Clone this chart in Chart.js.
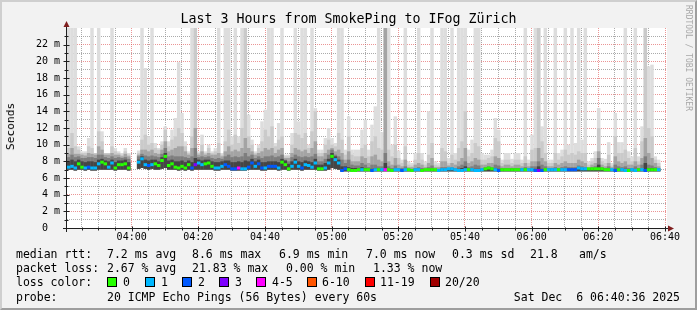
<!DOCTYPE html>
<html>
<head>
<meta charset="utf-8">
<title>SmokePing IFog Zürich</title>
<script src="https://cdn.jsdelivr.net/npm/chart.js@4.4.1/dist/chart.umd.min.js"></script>
<style>
html,body{margin:0;padding:0}
body{width:697px;height:310px;overflow:hidden;position:relative;background:#f2f2f2;font-family:"DejaVu Sans Mono",monospace;color:#000}
#frame{position:absolute;left:0;top:0;width:697px;height:310px;box-sizing:border-box;border-style:solid;border-width:2px;border-color:#cfcfcf #9e9e9e #9e9e9e #cfcfcf}
#c{position:absolute;left:0;top:0}
.t{position:absolute;white-space:pre;font-size:11.5px;line-height:14px}
#title{position:absolute;left:0;width:697px;top:11px;text-align:center;font-size:13.3px;line-height:16px;white-space:pre}
#ylab{position:absolute;left:4px;top:103px;font-size:11.2px;line-height:13px;writing-mode:vertical-rl;transform:rotate(180deg);white-space:pre;color:#000}
#wm{position:absolute;left:683px;top:5px;font-size:8px;line-height:10px;writing-mode:vertical-rl;color:#a8a8a8;white-space:pre}
.box{position:absolute;width:8px;height:8px;border:1px solid #000}
</style>
</head>
<body>
<div id="frame"></div>
<canvas id="c" width="697" height="310"></canvas>
<div id="title">Last 3 Hours from SmokePing to IFog Zürich</div>
<div id="ylab">Seconds</div>
<div id="wm">RRDTOOL / TOBI OETIKER</div>
<div id="legend"></div>
<script>
// ---------- axis / categories ----------
const startMinute = 220.6;   // 03:40:36 in minutes after midnight
const endMinute = 400.6;     // 06:40:36
const xTickValues = [240, 260, 280, 300, 320, 340, 360, 380, 400];
const xTickLabels = ['04:00','04:20','04:40','05:00','05:20','05:40','06:00','06:20','06:40'];
const yTickValues = [0, 2, 4, 6, 8, 10, 12, 14, 16, 18, 20, 22];
const yTickLabels = ['0  ','2 m','4 m','6 m','8 m','10 m','12 m','14 m','16 m','18 m','20 m','22 m'];

// ---------- series (ms), one value per minute ----------
const rttMedian = [
 7.3,7.4,7.2,7.7,7.3,7.2,7.3,7.2,7.2,7.7,
 7.9,7.7,7.3,7.8,7.2,7.6,7.6,7.7,7.2,null,
 null,7.9,8.3,7.6,7.5,7.6,7.7,7.5,8.1,8.6,
 7.5,7.7,7.3,7.2,7.4,7.2,7.6,7.2,7.6,7.8,
 7.6,7.7,7.8,7.4,7.2,7.2,7.4,7.6,7.4,7.1,
 7.1,7.2,7.1,7.1,7.3,7.8,7.4,7.7,7.2,7.2,
 7.4,7.4,7.4,7.2,7.9,7.6,7.1,7.4,7.9,7.4,
 7.2,7.6,7.5,7.3,7.8,7.1,7.1,7.2,7.8,8.6,
 8.2,7.8,6.9,7.1,7.0,6.9,6.9,7.0,7.0,7.0,
 7.0,6.9,7.0,7.0,7.0,7.0,7.0,6.9,7.0,7.0,
 6.9,7.0,7.0,6.9,7.0,7.0,6.9,7.0,7.0,7.0,
 7.0,6.9,7.0,7.0,7.1,7.1,7.0,6.9,6.9,7.0,
 7.0,7.0,6.9,6.9,7.0,7.1,7.2,7.1,7.0,6.9,
 7.0,7.0,7.0,7.0,7.0,7.0,7.0,7.0,7.0,7.0,
 6.9,6.9,6.9,7.0,7.0,7.0,7.0,7.0,7.0,7.0,
 7.0,7.0,7.0,7.2,7.1,7.1,7.1,7.1,7.1,7.1,
 7.1,7.0,7.0,7.0,6.9,7.0,7.0,6.9,6.9,7.0,
 6.9,7.0,7.0,6.9,7.0,7.0,7.0,7.0,null,null];

// loss class index per minute (0 = 0 lost, 1 = 1, 2 = 2, 3 = 3, 4 = 4-5 ...)
const lossIdx = [
 1,1,1,0,0,1,2,1,1,1,
 0,0,1,1,0,0,0,0,0,null,
 null,1,1,1,2,1,0,0,0,0,
 0,0,0,0,0,0,0,2,3,1,
 1,0,0,0,1,1,1,2,2,2,
 2,4,1,1,2,2,1,2,2,1,
 2,2,2,1,0,0,0,1,1,1,
 2,1,1,1,1,0,0,1,1,0,
 1,1,2,2,0,0,0,0,1,0,
 0,2,1,0,1,4,0,0,1,1,
 2,1,0,0,1,1,0,0,0,0,
 0,1,1,1,1,1,1,1,1,1,
 0,1,1,1,1,0,0,0,1,2,
 0,0,0,0,0,0,1,0,1,1,
 2,3,2,0,1,1,1,0,1,1,
 2,2,2,1,1,1,0,0,0,0,
 0,0,0,1,2,0,1,1,0,1,
 1,0,1,2,0,0,0,1,null,null];

// smoke: lowest ping per minute
const smokeMin = [
 7.0,7.0,6.9,7.0,7.0,6.9,7.0,6.9,6.9,7.0,
 7.0,7.0,7.0,7.0,6.9,7.0,7.0,7.0,6.9,null,
 null,7.1,7.2,7.1,7.0,7.1,7.0,7.0,7.1,7.2,
 7.0,7.0,7.0,6.9,7.0,6.9,7.0,6.9,7.0,7.0,
 7.0,7.0,7.0,7.0,6.9,6.9,7.0,7.0,7.0,6.9,
 6.9,6.9,6.9,6.9,7.0,7.0,7.0,7.0,6.9,6.9,
 7.0,7.0,7.0,6.9,7.0,7.0,6.9,7.0,7.0,7.0,
 6.9,7.0,7.0,7.0,7.0,6.9,6.9,6.9,7.0,7.2,
 7.1,7.0,6.8,6.8,6.8,6.8,6.8,6.8,6.8,6.8,
 6.8,6.8,6.8,6.8,6.8,6.8,6.8,6.8,6.8,6.8,
 6.8,6.8,6.8,6.8,6.8,6.8,6.8,6.8,6.8,6.8,
 6.8,6.8,6.8,6.8,6.8,6.8,6.8,6.8,6.8,6.8,
 6.8,6.8,6.8,6.8,6.8,6.8,6.8,6.8,6.8,6.8,
 6.8,6.8,6.8,6.8,6.8,6.8,6.8,6.8,6.8,6.8,
 6.8,6.8,6.8,6.8,6.8,6.8,6.8,6.8,6.8,6.8,
 6.8,6.8,6.8,6.8,6.8,6.8,6.8,6.8,6.8,6.8,
 6.8,6.8,6.8,6.8,6.8,6.8,6.8,6.8,6.8,6.8,
 6.8,6.8,6.8,6.8,6.8,6.8,6.8,6.8,null,null];

// smoke band tops, innermost (darkest) to outermost (max ping)
const smokeL4 = [
 8.0,8.2,8.0,8.2,8.0,7.9,8.0,8.0,7.9,8.2,
 8.3,8.1,8.0,8.2,7.9,8.1,8.1,8.2,7.9,null,
 null,8.2,8.6,8.2,8.1,8.2,8.2,8.0,8.5,9.0,
 8.1,8.2,8.0,8.0,8.1,7.9,8.1,7.9,8.4,8.2,
 8.1,8.2,8.2,8.0,7.9,7.9,8.0,8.1,8.1,7.9,
 7.9,8.0,7.9,8.1,8.0,8.3,8.0,8.2,7.9,7.9,
 8.0,8.0,8.0,7.9,8.3,8.1,7.7,8.0,8.3,8.0,
 7.9,8.1,8.0,7.9,8.3,7.6,7.6,7.8,8.3,9.0,
 8.6,8.2,7.4,7.4,7.3,7.2,7.2,7.2,7.3,7.2,
 7.1,7.1,7.2,7.1,7.1,7.8,7.1,7.0,7.1,7.1,
 7.0,7.1,7.0,7.0,7.1,7.1,7.0,7.0,7.0,7.1,
 7.0,7.0,7.1,7.1,7.2,7.2,7.1,7.1,7.2,7.4,
 7.1,7.1,7.1,7.1,7.1,7.2,7.3,7.2,7.2,7.1,
 7.1,7.1,7.1,7.1,7.1,7.1,7.1,7.1,7.1,7.1,
 7.1,7.4,7.1,7.1,7.1,7.1,7.1,7.1,7.1,7.1,
 7.1,7.1,7.1,7.3,7.2,7.2,7.2,7.2,7.2,7.6,
 7.2,7.1,7.1,7.0,7.1,7.1,7.1,7.1,7.0,7.1,
 7.0,7.1,7.1,7.8,7.2,7.2,7.1,7.0,null,null];

const smokeL3 = [
 8.5,8.8,8.5,8.6,8.4,8.4,8.5,8.5,8.4,8.8,
 8.8,8.5,8.4,8.6,8.4,8.5,8.4,8.5,8.3,null,
 null,8.6,8.9,8.7,8.6,8.7,8.6,8.5,8.9,9.6,
 8.6,8.7,8.6,8.6,8.6,8.5,8.4,8.6,9.6,8.5,
 8.6,8.5,8.6,8.4,8.3,8.4,8.3,8.6,8.8,8.5,
 8.6,8.5,8.6,9.0,8.6,8.8,8.4,8.6,8.4,8.6,
 8.6,8.7,8.5,8.6,8.8,8.2,8.0,8.5,8.8,8.6,
 8.5,8.6,8.5,8.6,8.9,8.0,8.0,8.3,8.8,9.4,
 8.8,8.6,8.2,7.8,8.2,7.6,7.5,7.5,7.8,7.6,
 7.3,7.6,7.6,7.4,7.4,9.0,7.4,7.2,7.5,7.2,
 7.2,7.4,7.1,7.1,7.2,7.3,7.2,7.1,7.3,7.5,
 7.1,7.1,7.3,7.3,7.2,7.3,7.2,7.4,7.6,8.0,
 7.3,7.4,7.6,7.5,7.2,7.3,7.4,7.3,7.6,7.5,
 7.2,7.2,7.2,7.2,7.2,7.2,7.2,7.3,7.2,7.4,
 7.4,8.0,7.6,7.4,7.2,7.2,7.3,7.2,7.3,7.4,
 7.3,7.3,7.3,7.5,7.4,7.3,7.2,7.3,7.4,8.4,
 7.3,7.2,7.4,7.1,7.6,7.4,7.3,7.4,7.2,7.2,
 7.4,7.2,7.6,8.6,7.6,7.5,7.3,7.2,null,null];

const smokeL2 = [
 8.9,9.6,8.9,8.9,8.8,8.7,9.0,8.9,8.8,9.8,
 9.4,8.8,8.8,9.0,8.8,8.8,8.6,8.9,8.6,null,
 null,8.8,9.4,9.4,9.2,9.4,9.0,8.9,9.4,10.4,
 9.2,9.4,9.6,9.8,9.8,9.2,8.8,9.6,12.0,8.8,
 9.2,8.8,9.0,8.8,8.8,9.0,8.6,9.2,9.8,9.2,
 9.4,9.2,9.6,10.8,9.6,9.2,8.8,9.0,9.2,9.6,
 9.4,9.6,9.0,9.4,9.6,8.4,8.4,9.0,9.6,9.4,
 9.2,9.4,9.0,9.6,10.4,8.6,8.6,9.0,9.4,9.6,
 9.2,9.4,9.0,8.2,9.2,8.0,8.0,8.0,8.6,8.4,
 7.8,8.6,8.8,8.2,8.0,24,8.0,7.6,8.4,7.6,
 7.4,8.2,7.3,7.3,7.6,7.8,7.6,7.3,7.8,8.4,
 7.3,7.3,8.0,8.0,7.5,7.8,7.6,8.0,8.4,9.6,
 7.8,8.0,8.4,8.2,7.6,7.6,7.8,7.8,8.6,8.4,
 7.4,7.6,7.6,7.4,7.6,7.6,7.4,7.8,7.4,8.0,
 8.0,9.6,8.4,8.0,7.4,7.4,7.8,7.6,7.8,8.0,
 7.8,7.8,7.8,8.2,8.0,7.8,7.3,7.6,7.8,9.2,
 7.6,7.4,7.8,7.3,8.6,8.0,7.8,8.0,7.6,7.6,
 8.0,7.6,8.4,10.8,9.0,8.4,7.8,7.4,null,null];

const smokeL1 = [
 9.6,11.4,9.8,9.4,9.0,9.0,9.8,9.6,9.0,11.6,
 10.4,9.0,9.0,9.8,9.2,9.0,8.8,9.2,8.8,null,
 null,9.0,10.6,11.2,10.0,10.2,9.6,9.4,10.0,11.8,
 9.8,10.6,11.0,12.0,11.4,9.8,9.0,11.0,24,9.0,
 10.0,9.0,9.6,9.0,9.2,10.2,8.8,10.4,11.8,10.0,
 11.2,10.2,12.0,24,11.0,10.0,9.0,9.6,10.4,11.8,
 11.0,12.2,9.8,10.6,11.0,8.6,8.6,10.0,11.4,11.2,
 10.8,11.4,9.6,11.6,14.0,9.0,9.0,10.0,10.6,10.0,
 9.8,11.4,10.6,8.8,11.0,8.8,8.6,8.6,9.6,10.0,
 8.6,10.4,11.0,9.6,9.4,24,9.4,8.6,10.0,8.4,
 7.8,9.8,7.6,7.5,8.2,9.0,8.2,7.6,8.8,10.2,
 7.6,7.5,9.6,9.2,7.8,8.8,8.2,9.6,10.4,14.0,
 8.6,9.0,10.2,9.8,8.2,8.2,8.4,8.6,10.8,10.4,
 7.8,8.2,8.2,7.8,8.2,8.2,7.8,8.6,7.8,9.4,
 9.6,24,10.4,9.0,7.8,7.8,9.0,8.2,8.6,9.4,
 8.8,9.0,8.8,9.2,9.0,9.0,7.6,8.0,8.4,12.0,
 8.0,7.8,8.8,7.5,11.0,9.0,9.0,9.4,8.4,8.0,
 9.6,8.0,10.4,24,12.0,11.0,8.2,7.8,null,null];

const smokeMax = [
 24,24,24,9.8,9.2,9.2,10.8,24,9.0,24,
 11.6,9.0,9.0,24,9.6,9.2,9.0,9.6,9.0,null,
 null,9.3,24,19.2,11.0,24,10.2,9.6,10.4,12.2,
 10.4,11.8,13.2,19.9,13.8,10.4,9.2,24,24,9.2,
 11.2,9.2,10.0,9.2,9.6,24,9.0,24,24,11.0,
 24,11.0,24,24,13.6,10.6,9.2,10.0,12.8,14.2,
 24,24,10.2,12.6,24,8.8,8.8,11.4,24,12.8,
 24,24,10.0,24,14.4,9.4,9.4,10.8,12.0,10.8,
 10.2,24,24,9.4,13.4,9.4,9.4,9.4,11.8,13.0,
 9.4,12.4,14.6,24,11.5,24,24,10.0,13.4,9.3,
 8.2,24,8.0,7.8,9.0,24,9.0,8.0,14.0,24,
 8.0,7.8,24,24,8.4,24,9.0,24,24,24,
 9.4,10.6,24,24,9.0,8.8,8.8,9.4,13.2,11.8,
 8.2,9.0,9.0,8.3,9.0,9.0,8.2,24,8.2,11.2,
 24,24,12.2,24,8.2,8.2,24,9.0,9.4,24,
 10.0,24,10.2,24,10.6,24,8.0,8.4,9.2,14.4,
 8.4,8.3,10.3,7.8,13.8,10.3,10.3,24,9.2,8.6,
 24,8.6,12.2,24,19.4,19.6,8.6,8.2,null,null];

// ---------- legend texts ----------
const lossLabels = ['0','1','2','3','4-5','6-10','11-19','20/20'];
const lossColors = ['#26ff00','#00b8ff','#0059ff','#7e00ff','#ff00ff','#ff5500','#ff0000','#a10000'];
const rttStats = ['7.2 ms avg','8.6 ms max','6.9 ms min','7.0 ms now','0.3 ms sd','21.8','am/s'];
const lossStats = ['2.67 % avg','21.83 % max','0.00 % min','1.33 % now'];
const probeText = '20 ICMP Echo Pings (56 Bytes) every 60s';
const stampText = 'Sat Dec  6 06:40:36 2025';

// ---------- layout (pixels) ----------
const rttStatX = [107,192,279,366,452,530,579];
const lossStatX = [107,192,286,373];
const lossBoxX = [107,145,182,219,256,307,365,430];
const lossLabelX = [123,161,198,235,272,322,380,445];
const rowTop = [247,261,275,290];

const legend = document.getElementById('legend');
function addText(txt, x, y){ const s=document.createElement('div'); s.className='t'; s.textContent=txt; s.style.left=x+'px'; s.style.top=y+'px'; legend.appendChild(s); return s; }
addText('median rtt:',16,rowTop[0]);
rttStats.forEach((t,i)=>addText(t,rttStatX[i],rowTop[0]));
addText('packet loss:',16,rowTop[1]);
lossStats.forEach((t,i)=>addText(t,lossStatX[i],rowTop[1]));
addText('loss color:',16,rowTop[2]);
lossLabels.forEach((t,i)=>{
  const b=document.createElement('div'); b.className='box'; b.style.left=lossBoxX[i]+'px'; b.style.top=(rowTop[2]+2)+'px'; b.style.background=lossColors[i]; legend.appendChild(b);
  addText(t,lossLabelX[i],rowTop[2]);
});
addText('probe:',16,rowTop[3]);
addText(probeText,107,rowTop[3]);
const st = addText(stampText,0,rowTop[3]); st.style.left='auto'; st.style.right='17px';

// ---------- chart ----------
const colTime = rttMedian.map((_, i) => startMinute + 0.5 + i);
function band(lo, hi){
  return colTime.map((x,i)=>({x, y: (lo[i]==null||hi[i]==null) ? null : [lo[i], hi[i]]}));
}
const medianHalf = 0.18;
const medianBars = colTime.map((x,i)=>({x, y: rttMedian[i]==null ? null : [rttMedian[i]-medianHalf, rttMedian[i]+medianHalf]}));

const gridMinutes = [];
for (let m = 225; m <= 400; m += 5) gridMinutes.push(m);
const gridValues = [];
for (let v = 0; v <= 23; v++) gridValues.push(v);

const majorGrid = 'rgba(222,79,79,0.6)';
const minorGrid = 'rgba(143,143,143,0.75)';
const tickFont = {family:'DejaVu Sans Mono', size:10};

const axesPlugin = {
  id:'rrdAxes',
  beforeDraw(chart){
    const {ctx, chartArea:a} = chart;
    ctx.save(); ctx.fillStyle='#ffffff'; ctx.fillRect(a.left, a.top, a.right-a.left, a.bottom-a.top); ctx.restore();
  },
  afterDraw(chart){
    const {ctx, chartArea:a, scales} = chart;
    const xs = scales.x, ys = scales.y;
    ctx.save();
    ctx.strokeStyle = '#1f1f1f'; ctx.lineWidth = 1;
    const ax = Math.round(a.left) - 0.5;
    const ay = Math.round(a.bottom) + 0.5;
    ctx.beginPath();
    ctx.moveTo(ax, a.bottom + 4); ctx.lineTo(ax, a.top - 2);
    ctx.moveTo(a.left - 4, ay); ctx.lineTo(a.right + 1, ay);
    gridMinutes.forEach(m=>{
      const px = Math.round(xs.getPixelForValue(m)) + 0.5; const major = m % 20 === 0;
      ctx.moveTo(px, ay - (major?2:1)); ctx.lineTo(px, ay + (major?3:2));
    });
    gridValues.forEach(v=>{
      if (v===0) return;
      const py = Math.round(ys.getPixelForValue(v)) + 0.5; const major = v % 2 === 0;
      ctx.moveTo(ax - (major?3:2), py); ctx.lineTo(ax + (major?3:2), py);
    });
    ctx.stroke();
    ctx.fillStyle = '#801f1f';
    ctx.beginPath();
    ctx.moveTo(ax, a.top - 7); ctx.lineTo(ax - 3, a.top - 1); ctx.lineTo(ax + 3, a.top - 1); ctx.closePath();
    ctx.fill();
    ctx.beginPath();
    ctx.moveTo(a.right + 7, ay); ctx.lineTo(a.right + 1, ay - 3); ctx.lineTo(a.right + 1, ay + 3); ctx.closePath();
    ctx.fill();
    ctx.restore();
  }
};

function barSet(label, data, color, order){
  return {label, data, backgroundColor: color, borderWidth: 0, order, grouped: false,
          barPercentage: 1.04, categoryPercentage: 1};
}

new Chart(document.getElementById('c'), {
  type: 'bar',
  data: {
    datasets: [
      {label:'median', data: medianBars, order: 0, grouped: false, borderWidth: 0,
       barPercentage: 1.04, categoryPercentage: 1,
       backgroundColor: ctx => lossColors[lossIdx[ctx.dataIndex]] || 'rgba(0,0,0,0)'},
      barSet('smoke4', band(smokeMin, smokeL4), '#454545', 1),
      barSet('smoke3', band(smokeMin, smokeL3), '#7e7e7e', 2),
      barSet('smoke2', band(smokeMin, smokeL2), '#a4a4a4', 3),
      barSet('smoke1', band(smokeMin, smokeL1), '#cacaca', 4),
      barSet('smokeMax', band(smokeMin, smokeMax), '#dddddd', 5)
    ]
  },
  options: {
    responsive: false, animation: false, devicePixelRatio: 1,
    layout: {padding: {left: 0, right: 30, top: 28, bottom: 62}},
    plugins: {legend: {display: false}, tooltip: {enabled: false}, title: {display: false}},
    scales: {
      x: {
        type: 'linear', min: startMinute, max: endMinute, z: 1, offset: false,
        afterBuildTicks: s => { s.ticks = gridMinutes.map(v => ({value: v})); },
        afterFit: s => { s.height = 20; },
        ticks: {
          autoSkip: false, maxRotation: 0, padding: 3, color: '#000', font: tickFont,
          callback: v => { const k = xTickValues.indexOf(v); return k >= 0 ? xTickLabels[k] : ''; }
        },
        grid: {drawTicks: false, lineWidth: 1, offset: false,
          color: c => (c.tick && c.tick.value % 20 === 0) ? majorGrid : minorGrid},
        border: {display: false, dash: [1, 1]}
      },
      y: {
        type: 'linear', min: 0, max: 24, z: 1,
        afterBuildTicks: s => { s.ticks = gridValues.map(v => ({value: v})); },
        afterFit: s => { s.width = 67; },
        ticks: {
          autoSkip: false, padding: 7, color: '#000', font: tickFont,
          callback: v => { const k = yTickValues.indexOf(v); return k >= 0 ? yTickLabels[k] : ''; }
        },
        grid: {drawTicks: false, lineWidth: 1,
          color: c => { const v = c.tick ? c.tick.value : 0; if (v === 0) return 'rgba(0,0,0,0)'; return v % 2 === 0 ? majorGrid : minorGrid; }},
        border: {display: false, dash: [1, 1]}
      }
    }
  },
  plugins: [axesPlugin]
});
</script>
</body>
</html>
